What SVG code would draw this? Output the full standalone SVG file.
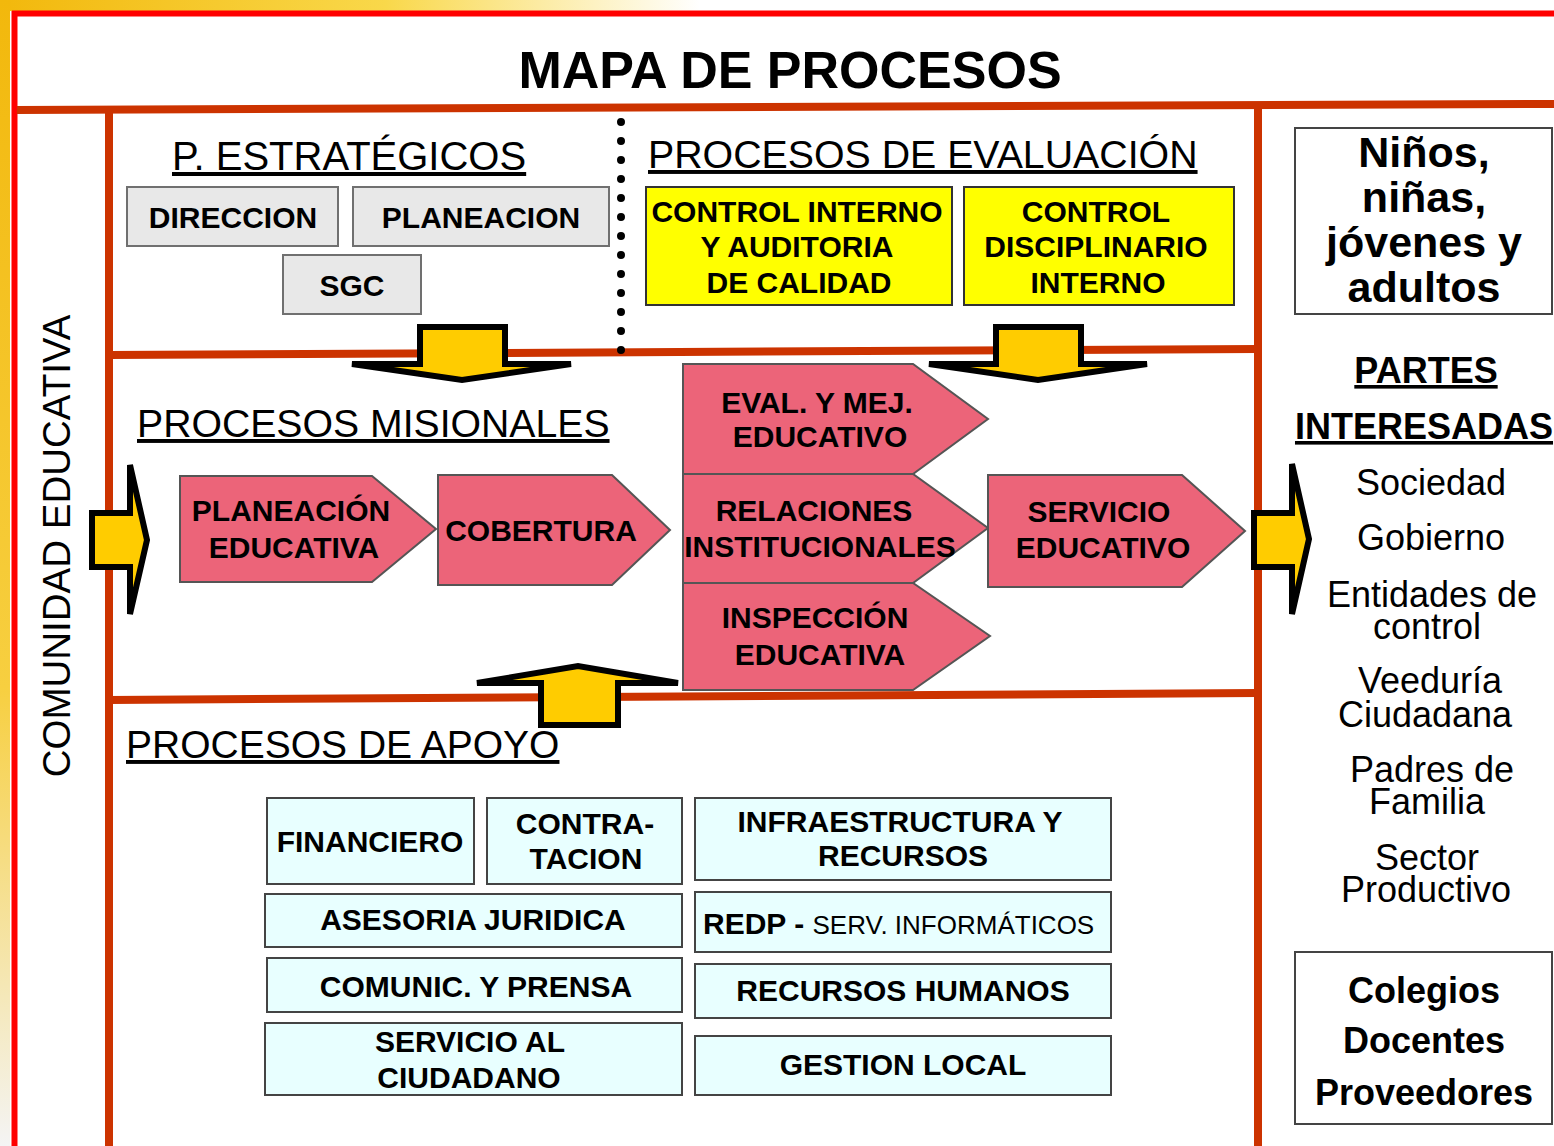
<svg xmlns="http://www.w3.org/2000/svg" width="1554" height="1146" viewBox="0 0 1554 1146">
<defs>
<linearGradient id="goldH" x1="0" y1="0" x2="1" y2="0">
<stop offset="0" stop-color="#F2B80C"/><stop offset="0.55" stop-color="#F9D84A"/><stop offset="1" stop-color="#FFFFFF"/>
</linearGradient>
<linearGradient id="goldV" x1="0" y1="0" x2="0" y2="1">
<stop offset="0" stop-color="#F2B80C"/><stop offset="0.6" stop-color="#F7CF40"/><stop offset="1" stop-color="#F4F4F4"/>
</linearGradient>
<style>
text{font-family:"Liberation Sans",Arial,sans-serif;fill:#000;}
.b{font-weight:bold;}
.hdr{text-decoration:underline;}
.bx{font-size:30px;font-weight:bold;text-anchor:middle;}
.gray{fill:#E8E8E8;stroke:#707070;stroke-width:2;}
.yel{fill:#FFFF00;stroke:#333;stroke-width:2;}
.pink{fill:#EC6479;stroke:#555;stroke-width:2;}
.cyan{fill:#E8FFFF;stroke:#444;stroke-width:2;}
.wbox{fill:#FFFFFF;stroke:#444;stroke-width:2;}
.frm{stroke:#CC3300;stroke-width:8;fill:none;}
.arr{fill:#FFCC00;stroke:#000;stroke-width:6;stroke-linejoin:miter;}
.lst{font-size:36px;text-anchor:middle;}
</style>
</defs>
<rect x="0" y="0" width="1554" height="1146" fill="#FFFFFF"/>
<rect x="0" y="0" width="700" height="12" fill="url(#goldH)"/>
<rect x="0" y="0" width="10" height="1146" fill="url(#goldV)"/>
<g id="frame">
<rect x="10" y="11" width="1544" height="1135" fill="#FFFFFF"/>
<line x1="12" y1="13.5" x2="1554" y2="13.5" stroke="#FF0000" stroke-width="6"/>
<line x1="14.5" y1="11" x2="14.5" y2="1146" stroke="#FF0000" stroke-width="6"/>
<line class="frm" x1="17" y1="110" x2="1554" y2="104"/>
<line class="frm" x1="109" y1="110" x2="109" y2="1146"/>
<line class="frm" x1="1258" y1="104" x2="1258" y2="1146"/>
<line class="frm" x1="109" y1="355" x2="1258" y2="349"/>
<line class="frm" x1="109" y1="700" x2="1258" y2="693"/>
<line x1="621" y1="122" x2="621" y2="352" stroke="#000" stroke-width="8" stroke-linecap="round" stroke-dasharray="0 19"/>
</g>
<text x="790" y="88" class="b" font-size="52" text-anchor="middle">MAPA DE PROCESOS</text>
<text class="hdr" x="172" y="170" font-size="40">P. ESTRATÉGICOS</text>
<text class="hdr" x="648" y="168" font-size="39.3">PROCESOS DE EVALUACIÓN</text>
<text class="hdr" x="137" y="437" font-size="39.2">PROCESOS MISIONALES</text>
<text class="hdr" x="126" y="758" font-size="39">PROCESOS DE APOYO</text>
<text x="0" y="0" font-size="38.5" text-anchor="middle" transform="translate(70,546) rotate(-90)">COMUNIDAD EDUCATIVA</text>

<g id="n-direccion"><rect class="gray" x="127" y="187" width="211" height="59"/><text class="bx" x="233" y="228">DIRECCION</text></g>
<g id="n-planeacion"><rect class="gray" x="353" y="187" width="256" height="59"/><text class="bx" x="481" y="228">PLANEACION</text></g>
<g id="n-sgc"><rect class="gray" x="283" y="255" width="138" height="59"/><text class="bx" x="352" y="296">SGC</text></g>

<g id="n-control-interno"><rect class="yel" x="646" y="187" width="306" height="118"/><text class="bx" x="797" y="222">CONTROL INTERNO</text><text class="bx" x="797" y="257">Y AUDITORIA</text><text class="bx" x="799" y="293">DE CALIDAD</text></g>
<g id="n-control-disciplinario"><rect class="yel" x="964" y="187" width="270" height="118"/><text class="bx" x="1096" y="222">CONTROL</text><text class="bx" x="1096" y="257">DISCIPLINARIO</text><text class="bx" x="1098" y="293">INTERNO</text></g>

<g id="n-ninos"><rect class="wbox" x="1295" y="128" width="257" height="186"/>
<text class="b" font-size="43" text-anchor="middle" x="1424" y="167">Niños,</text>
<text class="b" font-size="43" text-anchor="middle" x="1424" y="212">niñas,</text>
<text class="b" font-size="43" text-anchor="middle" x="1424" y="257">jóvenes y</text>
<text class="b" font-size="43" text-anchor="middle" x="1424" y="302">adultos</text></g>

<g id="n-partes">
<text class="b" font-size="36" text-anchor="middle" text-decoration="underline" x="1426" y="383">PARTES</text>
<text class="b" font-size="36" text-anchor="middle" text-decoration="underline" x="1424" y="439">INTERESADAS</text>
<text class="lst" x="1431" y="495">Sociedad</text>
<text class="lst" x="1431" y="550">Gobierno</text>
<text class="lst" x="1432" y="607">Entidades de</text>
<text class="lst" x="1427" y="639">control</text>
<text class="lst" x="1430" y="693">Veeduría</text>
<text class="lst" x="1425" y="727">Ciudadana</text>
<text class="lst" x="1432" y="782">Padres de</text>
<text class="lst" x="1427" y="814">Familia</text>
<text class="lst" x="1427" y="870">Sector</text>
<text class="lst" x="1426" y="902">Productivo</text>
</g>

<g id="n-colegios"><rect class="wbox" x="1295" y="952" width="257" height="172"/>
<text class="b" font-size="36" text-anchor="middle" x="1424" y="1003">Colegios</text>
<text class="b" font-size="36" text-anchor="middle" x="1424" y="1053">Docentes</text>
<text class="b" font-size="36" text-anchor="middle" x="1424" y="1105">Proveedores</text></g>

<g id="n-planeacion-educativa"><polygon class="pink" points="180,476 372,476 436,529 372,582 180,582"/><text class="bx" x="291" y="521">PLANEACIÓN</text><text class="bx" x="294" y="558">EDUCATIVA</text></g>
<g id="n-cobertura"><polygon class="pink" points="438,475 612,475 670,530 612,585 438,585"/><text class="bx" x="541" y="541">COBERTURA</text></g>
<g id="n-eval"><polygon class="pink" points="683,364 913,364 988,419 913,474 683,474"/><text class="bx" x="817" y="413">EVAL. Y MEJ.</text><text class="bx" x="820" y="447">EDUCATIVO</text></g>
<g id="n-relaciones"><polygon class="pink" points="683,474 913,474 988,528 913,583 683,583"/><text class="bx" x="814" y="521">RELACIONES</text><text class="bx" x="820" y="557">INSTITUCIONALES</text></g>
<g id="n-inspeccion"><polygon class="pink" points="683,583 913,583 990,636 913,690 683,690"/><text class="bx" x="815" y="628">INSPECCIÓN</text><text class="bx" x="820" y="665">EDUCATIVA</text></g>
<g id="n-servicio"><polygon class="pink" points="988,475 1182,475 1245,531 1182,587 988,587"/><text class="bx" x="1099" y="522">SERVICIO</text><text class="bx" x="1103" y="558">EDUCATIVO</text></g>

<g id="n-financiero"><rect class="cyan" x="267" y="798" width="207" height="86"/><text class="bx" x="370" y="852">FINANCIERO</text></g>
<g id="n-contratacion"><rect class="cyan" x="487" y="798" width="195" height="86"/><text class="bx" x="585" y="834">CONTRA-</text><text class="bx" x="586" y="869">TACION</text></g>
<g id="n-infraestructura"><rect class="cyan" x="695" y="798" width="416" height="82"/><text class="bx" x="900" y="832">INFRAESTRUCTURA Y</text><text class="bx" x="903" y="866">RECURSOS</text></g>
<g id="n-asesoria"><rect class="cyan" x="265" y="894" width="417" height="53"/><text class="bx" x="473" y="930">ASESORIA JURIDICA</text></g>
<g id="n-redp"><rect class="cyan" x="695" y="892" width="416" height="60"/><text x="703" y="934"><tspan class="b" font-size="30">REDP - </tspan><tspan font-size="26">SERV. INFORMÁTICOS</tspan></text></g>
<g id="n-comunic"><rect class="cyan" x="267" y="958" width="415" height="54"/><text class="bx" x="476" y="997">COMUNIC. Y PRENSA</text></g>
<g id="n-rrhh"><rect class="cyan" x="695" y="964" width="416" height="54"/><text class="bx" x="903" y="1001">RECURSOS HUMANOS</text></g>
<g id="n-servicio-ciudadano"><rect class="cyan" x="265" y="1023" width="417" height="72"/><text class="bx" x="470" y="1052">SERVICIO AL</text><text class="bx" x="469" y="1088">CIUDADANO</text></g>
<g id="n-gestion"><rect class="cyan" x="695" y="1036" width="416" height="59"/><text class="bx" x="903" y="1075">GESTION LOCAL</text></g>

<g id="connectors">
<polygon class="arr" points="420,327 505,327 505,364 571,364 462,380 352,364 420,364"/>
<polygon class="arr" points="996,327 1081,327 1081,364 1147,364 1038,380 929,364 996,364"/>
<polygon class="arr" points="541,725 618,725 618,683 678,683 578,666 477,683 541,683"/>
<polygon class="arr" points="92,513 130,513 130,465 147,540 130,614 130,567 92,567"/>
<polygon class="arr" points="1254,513 1292,513 1292,464 1309,539 1292,614 1292,567 1254,567"/>
</g>
</svg>
